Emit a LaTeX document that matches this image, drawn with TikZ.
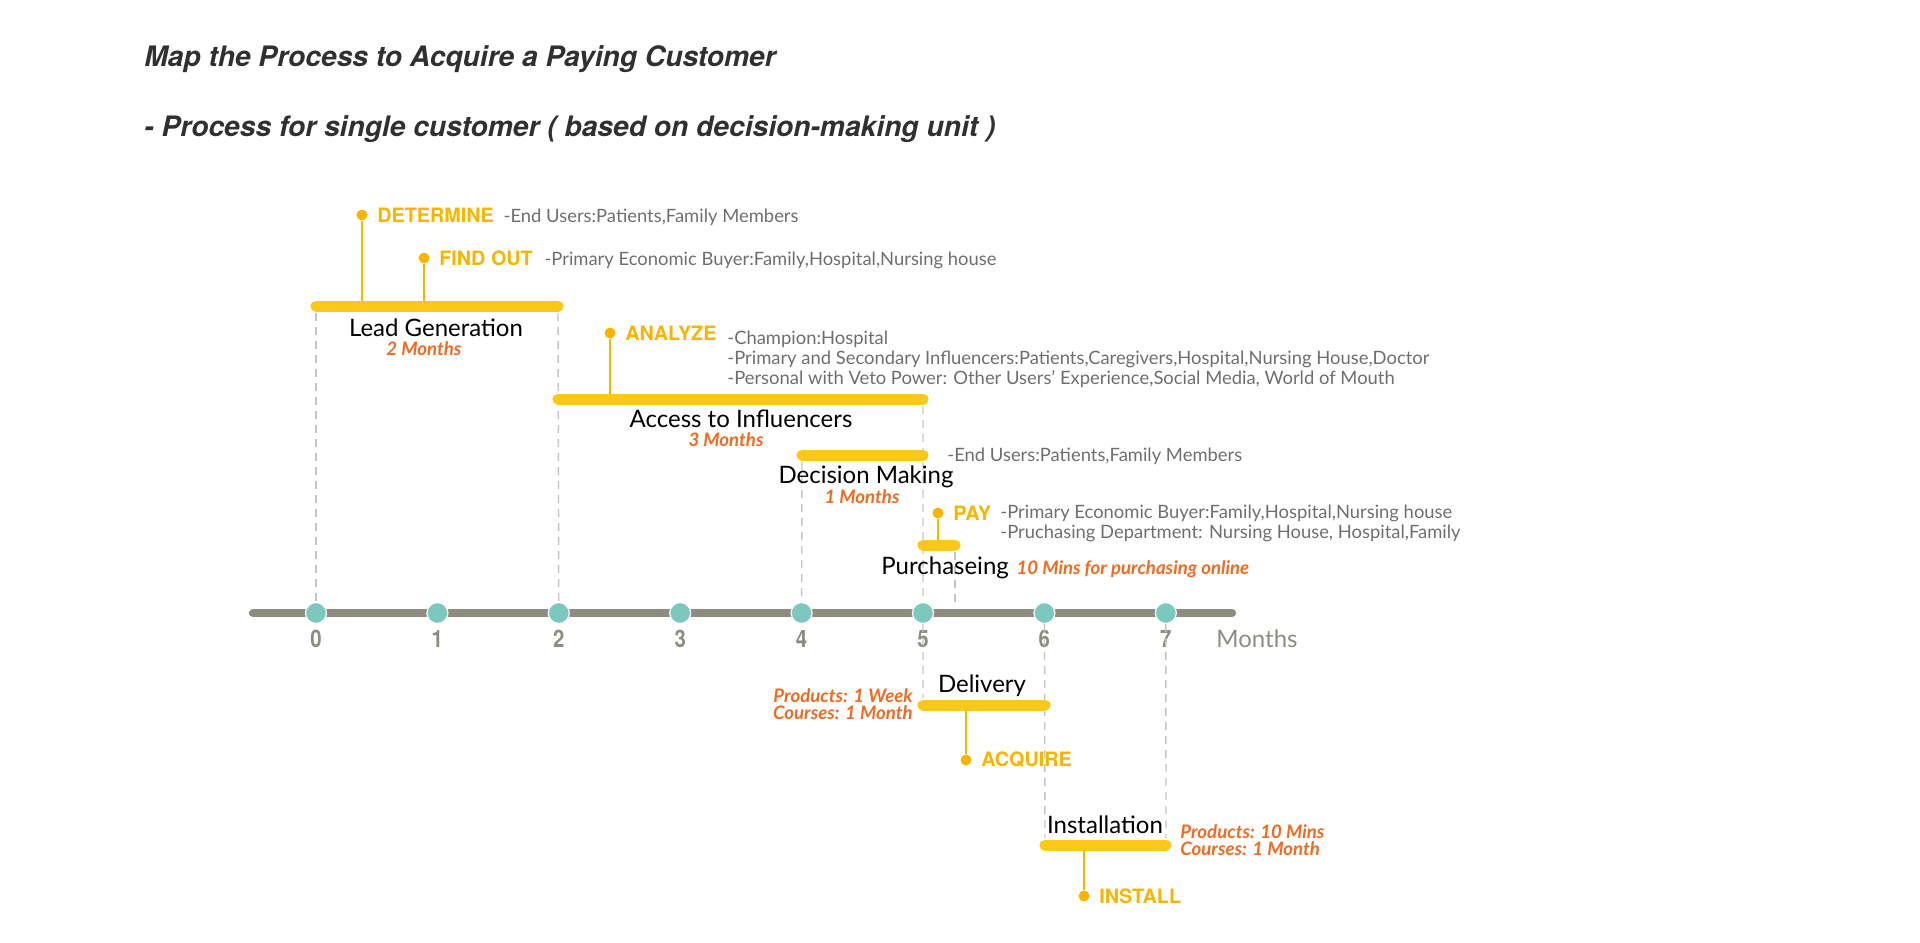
\documentclass[tikz,border=0pt]{standalone}
\usepackage{fontspec}
\setmainfont{Lato}
\newfontfamily\headfont{TeX Gyre Heros}
\newfontfamily\numfont[FakeStretch=0.85]{TeX Gyre Heros}
\usetikzlibrary{positioning}

\definecolor{barYellow}{HTML}{FCC817}
\definecolor{tagYellow}{HTML}{F7B500}
\definecolor{noteOrange}{HTML}{F06A22}
\definecolor{descGrey}{HTML}{6E6E6E}
\definecolor{axisGrey}{HTML}{8E8B80}
\definecolor{dotTeal}{HTML}{7CC8BF}
\definecolor{dashGrey}{HTML}{C4C4C4}
\definecolor{titleGrey}{HTML}{303030}

\begin{document}
\begin{tikzpicture}[x=0.5pt,y=-0.5pt,
  bar/.style={line width=5.5pt,barYellow,line cap=round},
  guide/.style={dashGrey,line width=0.7pt,dash pattern=on 4pt off 3pt},
  stem/.style={tagYellow,line width=1.2pt},
  axis/.style={axisGrey,line width=4.2pt,line cap=round},
  tick/.style={circle,fill=dotTeal,draw=white,line width=0.6pt,inner sep=0pt,minimum size=10.5pt},
  tagdot/.style={circle,fill=tagYellow,inner sep=0pt,minimum size=5.5pt},
  tag/.style={font=\headfont\bfseries\fontsize{9.9}{11}\selectfont,text=tagYellow,inner sep=0pt},
  desc/.style={font=\fontsize{9.2}{9.9}\selectfont,text=descGrey,inner sep=0pt,align=left},
  phase/.style={font=\fontsize{12}{14}\selectfont,inner sep=0pt},
  note/.style={font=\bfseries\itshape\fontsize{9.3}{8.5}\selectfont,text=noteOrange,inner sep=0pt,align=left},
  num/.style={font=\numfont\bfseries\fontsize{12}{14}\selectfont,text=axisGrey,inner sep=0pt},
  title/.style={font=\headfont\bfseries\itshape\fontsize{14.1}{16}\selectfont,text=titleGrey,inner sep=0pt}]
\useasboundingbox (0,0) rectangle (1920,942);

% titles
\node[title,anchor=base west] (t1) at (144,66) {Map the Process to Acquire a Paying Customer};
\node[title,anchor=base west] (t2) at (144,136) {- Process for single customer ( based on decision-making unit )};

% time axis
\coordinate (axL) at (253,613);
\coordinate (axR) at (1232,613);
\draw[axis] (axL) -- (axR);
\foreach \i in {0,...,7}{
  \node[tick] (m\i) at ({316+121.4*\i},613) {};
  \node[num,anchor=base] (n\i) at ({316+121.4*\i},647) {\i};
}
\node[anchor=base west,inner sep=0pt,text=axisGrey,font=\fontsize{12}{14}\selectfont] (months) at (1216,647) {Months};

% bar ends
\coordinate (lgL) at (316,306);  \coordinate (lgR) at (558,306);
\coordinate (acL) at (558,399);  \coordinate (acR) at (923,399);
\coordinate (dmL) at (802,455);  \coordinate (dmR) at (923,455);
\coordinate (pcL) at (923,545);  \coordinate (pcR) at (955,545);
\coordinate (dlL) at (923,705);  \coordinate (dlR) at (1045,705);
\coordinate (inL) at (1045,845); \coordinate (inR) at (1166,845);

% guides
\draw[guide,shorten <=3.5pt] (lgL) -- (m0);
\draw[guide,shorten <=3.5pt] (lgR) -- (m2);
\draw[guide,shorten <=3.5pt] (acR) -- (m5);
\draw[guide,shorten <=3.5pt] (dmL) -- (m4);
\draw[guide,shorten <=3.5pt,shorten >=3pt] (pcR) -- (pcR |- m5);
\draw[guide,shorten >=3.5pt] (m5) -- (dlL);
\draw[guide,shorten >=3.5pt] (m6) -- (inL);
\draw[guide,shorten >=3.5pt] (m7) -- (inR);

% tags
\node[tagdot] (detDot) at (362,215) {};
\node[tag,right=4.5pt of detDot] (det) {DETERMINE};
\node[desc,base right=4.5pt of det] (detTxt) {-End Users:Patients,Family Members};
\draw[stem] (detDot) -- (detDot |- lgL);

\node[tagdot] (fndDot) at (424,258) {};
\node[tag,right=4.5pt of fndDot] (fnd) {FIND OUT};
\node[desc,base right=5.5pt of fnd] (fndTxt) {-Primary Economic Buyer:Family,Hospital,Nursing house};
\draw[stem] (fndDot) -- (fndDot |- lgL);

\node[tagdot] (anaDot) at (610,333) {};
\node[tag,right=4.5pt of anaDot] (ana) {ANALYZE};
\node[desc,anchor=north west] (anaTxt) at (727,331) {-Champion:Hospital\\-Primary and Secondary Influencers:Patients,Caregivers,Hospital,Nursing House,Doctor\\-Personal with Veto Power: Other Users’ Experience,Social Media, World of Mouth};
\draw[stem] (anaDot) -- (anaDot |- acL);

\node[desc,anchor=base west] (dmTxt) at (947,461) {-End Users:Patients,Family Members};

\node[tagdot] (payDot) at (938,513) {};
\node[tag,right=4.5pt of payDot] (pay) {PAY};
\node[desc,anchor=north west] (payTxt) at (1000,505) {-Primary Economic Buyer:Family,Hospital,Nursing house\\-Pruchasing Department: Nursing House, Hospital,Family};
\draw[stem] (payDot) -- (payDot |- pcL);

\node[tagdot] (acqDot) at (966,760) {};
\node[tag,right=4.5pt of acqDot] (acq) {ACQUIRE};
\draw[stem] (acqDot |- dlL) -- (acqDot);

\node[tagdot] (insDot) at (1084,896) {};
\node[tag,right=4.5pt of insDot] (ins) {INSTALL};
\draw[stem] (insDot |- inL) -- (insDot);

% bars
\draw[bar] (lgL) -- (lgR);
\draw[bar] (acL) -- (acR);
\draw[bar] (dmL) -- (dmR);
\draw[bar] (pcL) -- (pcR);
\draw[bar] (dlL) -- (dlR);
\draw[bar] (inL) -- (inR);

% phases
\node[phase,anchor=base] (lg) at (436,336) {Lead Generation};
\node[note,anchor=base] (lgT) at (424,355) {2 Months};
\node[phase,anchor=base] (ac) at (741,427) {Access to Influencers};
\node[note,anchor=base] (acT) at (726,446) {3 Months};
\node[phase,anchor=base] (dm) at (866,483) {Decision Making};
\node[note,anchor=base] (dmT) at (862,503) {1 Months};
\node[phase,anchor=base west] (pc) at (881,574) {Purchaseing};
\node[note,base right=3.5pt of pc] (pcT) {10 Mins for purchasing online};
\node[phase,anchor=base] (dl) at (982,692) {Delivery};
\node[note,anchor=base east] (dlT) at (913,702) {Products: 1 Week};
\node[note,anchor=base east] (dlT2) at (913,719) {Courses: 1 Month};
\node[phase,anchor=base] (in) at (1105,833) {Installation};
\node[note,anchor=base west] (inT) at (1180,838) {Products: 10 Mins};
\node[note,anchor=base west] (inT2) at (1180,855) {Courses: 1 Month};
\end{tikzpicture}
\end{document}
